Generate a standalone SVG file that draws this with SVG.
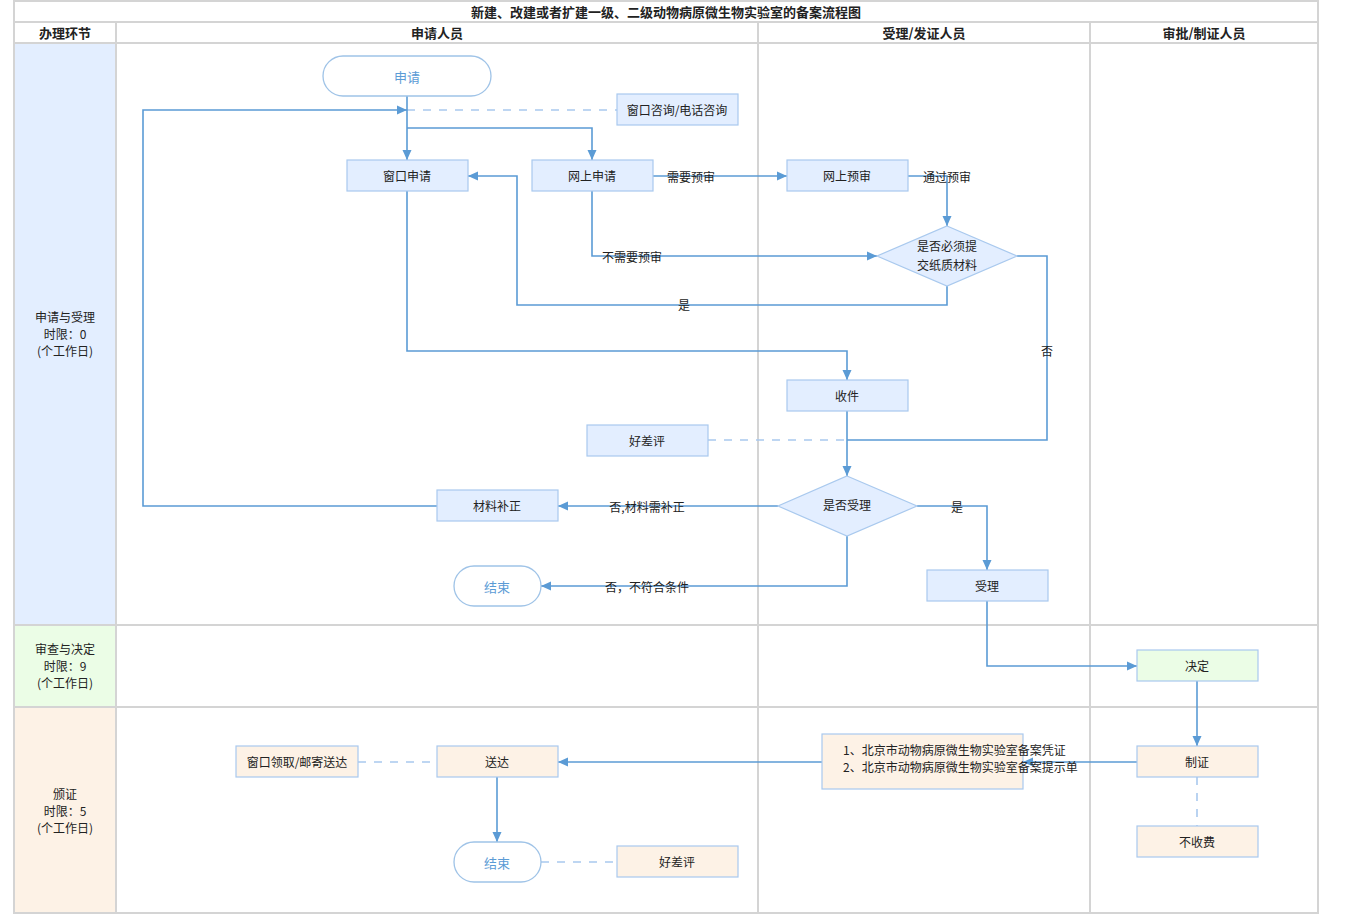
<svg xmlns="http://www.w3.org/2000/svg" width="1350" height="915" viewBox="0 0 1350 915">
<style>
text{font-family:"Noto Sans CJK SC","Liberation Sans",sans-serif;font-size:12px;fill:#222;text-anchor:middle;dominant-baseline:central}
.hdr{font-weight:bold;font-size:13px}
.grid{stroke:#d4d4d4;stroke-width:2;fill:none}
.b{fill:#e3eeff;stroke:#a9c9ee;stroke-width:1.2}
.g{fill:#ebfde6;stroke:#a9c9ee;stroke-width:1.2}
.p{fill:#fdf2e6;stroke:#a9c9ee;stroke-width:1.2}
.pill{fill:#fff;stroke:#9fc3e7;stroke-width:1.3}
.pt{fill:#5b9bd5;font-size:13px}
.c{fill:none;stroke:#5b9bd5;stroke-width:1.6}
.d{fill:none;stroke:#a9c9ee;stroke-width:1.6;stroke-dasharray:8 8}
.lbl{font-size:12px}
</style>
<defs>
<marker id="ar" viewBox="0 0 10 10" refX="10" refY="5" markerWidth="10" markerHeight="10" markerUnits="userSpaceOnUse" orient="auto"><path d="M0,0.5 L10,5 L0,9.5 z" fill="#5b9bd5"/></marker>
</defs>
<rect width="1350" height="915" fill="#fff"/>
<g id="lanes">
<rect x="14" y="43" width="102" height="582" fill="#e3eeff"/>
<rect x="14" y="625" width="102" height="82" fill="#ebfde6"/>
<rect x="14" y="707" width="102" height="206" fill="#fdf2e6"/>
<rect class="grid" x="14" y="1" width="1304" height="912"/>
<line class="grid" x1="14" y1="22" x2="1318" y2="22"/>
<line class="grid" x1="14" y1="43" x2="1318" y2="43"/>
<line class="grid" x1="14" y1="625" x2="1318" y2="625"/>
<line class="grid" x1="14" y1="707" x2="1318" y2="707"/>
<line class="grid" x1="116" y1="22" x2="116" y2="913"/>
<line class="grid" x1="758" y1="22" x2="758" y2="913"/>
<line class="grid" x1="1090" y1="22" x2="1090" y2="913"/>
<text class="hdr" x="666" y="11">新建、改建或者扩建一级、二级动物病原微生物实验室的备案流程图</text>
<text class="hdr" x="65" y="32">办理环节</text>
<text class="hdr" x="437" y="32">申请人员</text>
<text class="hdr" x="924" y="32">受理/发证人员</text>
<text class="hdr" x="1204" y="32">审批/制证人员</text>
<text x="65" y="316">申请与受理</text>
<text x="65" y="333">时限：0</text>
<text x="65" y="350">(个工作日)</text>
<text x="65" y="648">审查与决定</text>
<text x="65" y="665">时限：9</text>
<text x="65" y="682">(个工作日)</text>
<text x="65" y="793">颁证</text>
<text x="65" y="810">时限：5</text>
<text x="65" y="827">(个工作日)</text>
</g>
<g id="connectors">
<path class="d" d="M407,110 H617"/>
<path class="d" d="M708,440 H847"/>
<path class="d" d="M1197,777 V826"/>
<path class="d" d="M358,762 H437"/>
<path class="d" d="M541,862 H617"/>
<path class="c" d="M407,96 V160" marker-end="url(#ar)"/>
<path class="c" d="M407,128 H592 V160" marker-end="url(#ar)"/>
<path class="c" d="M437,506 H143 V110 H407" marker-end="url(#ar)"/>
<path class="c" d="M653,176 H787" marker-end="url(#ar)"/>
<path class="c" d="M908,176 H947 V226" marker-end="url(#ar)"/>
<path class="c" d="M592,191 V256 H877" marker-end="url(#ar)"/>
<path class="c" d="M947,286 V305 H517 V176 H468" marker-end="url(#ar)"/>
<path class="c" d="M1017,256 H1047 V440 H847"/>
<path class="c" d="M407,191 V351 H847 V380" marker-end="url(#ar)"/>
<path class="c" d="M847,411 V476" marker-end="url(#ar)"/>
<path class="c" d="M778,506 H558" marker-end="url(#ar)"/>
<path class="c" d="M847,536 V586 H541" marker-end="url(#ar)"/>
<path class="c" d="M917,506 H987 V570" marker-end="url(#ar)"/>
<path class="c" d="M987,601 V666 H1137" marker-end="url(#ar)"/>
<path class="c" d="M1197,681 V746" marker-end="url(#ar)"/>
<path class="c" d="M1137,762 H1023" marker-end="url(#ar)"/>
<path class="c" d="M822,762 H558" marker-end="url(#ar)"/>
<path class="c" d="M497,777 V842" marker-end="url(#ar)"/>
<text class="lbl" x="691" y="176">需要预审</text>
<text class="lbl" x="947" y="176">通过预审</text>
<text class="lbl" x="632" y="256">不需要预审</text>
<text class="lbl" x="684" y="304">是</text>
<text class="lbl" x="1047" y="350">否</text>
<text class="lbl" x="647" y="506">否,材料需补正</text>
<text class="lbl" x="647" y="586">否，不符合条件</text>
<text class="lbl" x="957" y="506">是</text>
</g>
<g id="n-apply"><rect class="pill" x="323" y="56" width="168" height="40" rx="20"/><text class="pt" x="407" y="76">申请</text></g>
<g id="n-consult"><rect class="b" x="617" y="94" width="121" height="31"/><text x="677" y="109">窗口咨询/电话咨询</text></g>
<g id="n-window"><rect class="b" x="347" y="160" width="121" height="31"/><text x="407" y="175">窗口申请</text></g>
<g id="n-online"><rect class="b" x="532" y="160" width="121" height="31"/><text x="592" y="175">网上申请</text></g>
<g id="n-precheck"><rect class="b" x="787" y="160" width="121" height="31"/><text x="847" y="175">网上预审</text></g>
<g id="n-paper"><polygon class="b" points="947,226 1017,256 947,286 877,256"/><text x="947" y="245">是否必须提</text><text x="947" y="264">交纸质材料</text></g>
<g id="n-receive"><rect class="b" x="787" y="380" width="121" height="31"/><text x="847" y="395">收件</text></g>
<g id="n-eval1"><rect class="b" x="587" y="425" width="121" height="31"/><text x="647" y="440">好差评</text></g>
<g id="n-accept-q"><polygon class="b" points="847,476 917,506 847,536 778,506"/><text x="847" y="504">是否受理</text></g>
<g id="n-supplement"><rect class="b" x="437" y="490" width="121" height="31"/><text x="497" y="505">材料补正</text></g>
<g id="n-end1"><rect class="pill" x="454" y="566" width="87" height="40" rx="20"/><text class="pt" x="497" y="586">结束</text></g>
<g id="n-accept"><rect class="b" x="927" y="570" width="121" height="31"/><text x="987" y="585">受理</text></g>
<g id="n-decide"><rect class="g" x="1137" y="650" width="121" height="31"/><text x="1197" y="665">决定</text></g>
<g id="n-make"><rect class="p" x="1137" y="746" width="121" height="31"/><text x="1197" y="761">制证</text></g>
<g id="n-nofee"><rect class="p" x="1137" y="826" width="121" height="31"/><text x="1197" y="841">不收费</text></g>
<g id="n-docs"><rect class="p" x="822" y="734" width="201" height="55"/><text x="843" y="749" style="text-anchor:start">1、北京市动物病原微生物实验室备案凭证</text><text x="843" y="766" style="text-anchor:start">2、北京市动物病原微生物实验室备案提示单</text></g>
<g id="n-deliver"><rect class="p" x="437" y="746" width="121" height="31"/><text x="497" y="761">送达</text></g>
<g id="n-pickup"><rect class="p" x="236" y="746" width="122" height="31"/><text x="297" y="761">窗口领取/邮寄送达</text></g>
<g id="n-end2"><rect class="pill" x="454" y="842" width="87" height="40" rx="20"/><text class="pt" x="497" y="862">结束</text></g>
<g id="n-eval2"><rect class="p" x="617" y="846" width="121" height="31"/><text x="677" y="861">好差评</text></g>
</svg>
